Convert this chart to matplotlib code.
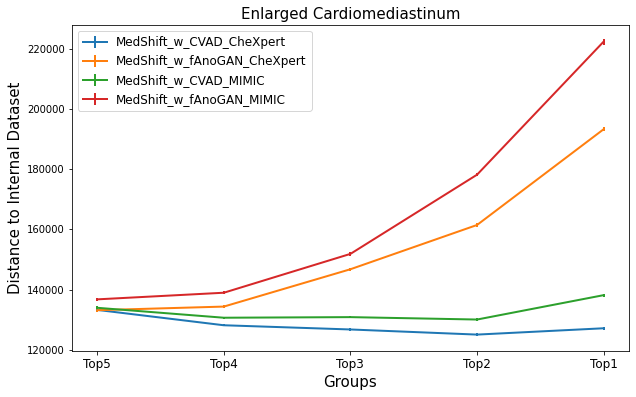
import numpy as np
import matplotlib
matplotlib.use("Agg")
import matplotlib.pyplot as plt

groups = ["Top5", "Top4", "Top3", "Top2", "Top1"]

cvad_chexpert = [133300, 128200, 126800, 125100, 127200]
fanogan_chexpert = [133200, 134400, 146800, 161500, 193300]
cvad_mimic = [134000, 130700, 130900, 130100, 138200]
fanogan_mimic = [136800, 139000, 151900, 178200, 222400]

cvad_chexpert_err = [400, 400, 400, 400, 500]
fanogan_chexpert_err = [500, 500, 500, 600, 600]
cvad_mimic_err = [700, 400, 400, 400, 500]
fanogan_mimic_err = [400, 500, 600, 500, 1000]

series = [
    ("MedShift_w_CVAD_CheXpert", cvad_chexpert, cvad_chexpert_err),
    ("MedShift_w_fAnoGAN_CheXpert", fanogan_chexpert, fanogan_chexpert_err),
    ("MedShift_w_CVAD_MIMIC", cvad_mimic, cvad_mimic_err),
    ("MedShift_w_fAnoGAN_MIMIC", fanogan_mimic, fanogan_mimic_err),
]

fig, ax = plt.subplots(figsize=(636 / 72, 397 / 72), dpi=72)
fig.subplots_adjust(left=0.113, right=0.989, bottom=0.117, top=0.937)

x = np.arange(len(groups))
for name, vals, err in series:
    ax.errorbar(x, vals, yerr=err, label=name, linewidth=2, elinewidth=2)

ax.set_xticks(x)
ax.set_xticklabels(groups, fontsize=12)
ax.tick_params(axis="y", labelsize=10)
ax.set_ylim(119800, 227900)
ax.set_title("Enlarged Cardiomediastinum", fontsize=15)
ax.set_xlabel("Groups", fontsize=15)
ax.set_ylabel("Distance to Internal Dataset", fontsize=15)
ax.legend(fontsize=12, loc="upper left")

fig.savefig("out.png", dpi=72)
